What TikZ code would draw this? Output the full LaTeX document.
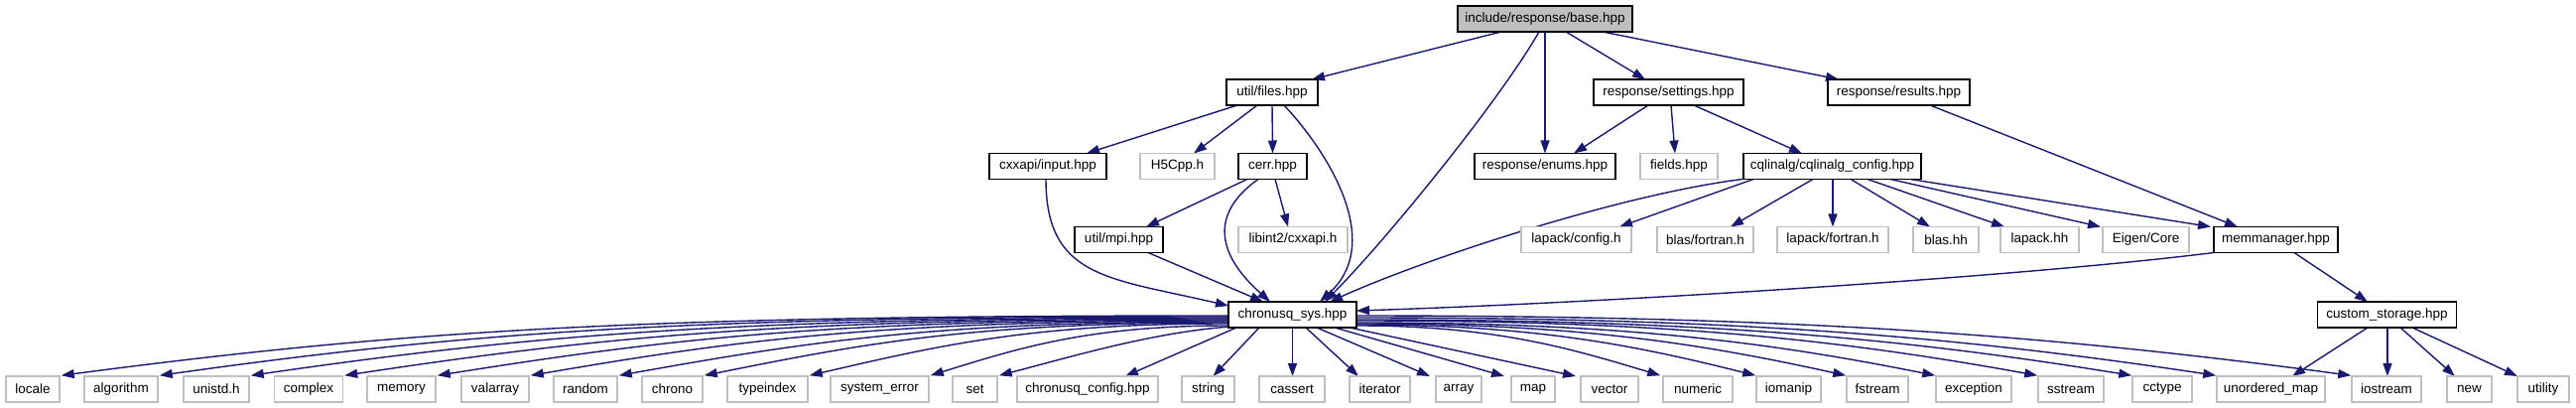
\documentclass[tikz,border=0pt]{standalone}
\usepackage{fontspec}
\setmainfont{Liberation Sans}
\usetikzlibrary{calc,arrows.meta}
\definecolor{edgeblue}{HTML}{191970}
\definecolor{extgray}{HTML}{BFBFBF}
\pgfdeclarelayer{bg}
\pgfsetlayers{bg,main}
\tikzset{
  nd/.style={draw=black, line width=1.5pt, fill=white, minimum height=26pt, inner sep=0pt, font=\fontsize{13.5pt}{15pt}\selectfont},
  ex/.style={nd, draw=extgray},
  e/.style={draw=edgeblue, line width=1.4pt, -{Triangle[length=13pt,width=9pt]}},
}
\begin{document}
\begin{tikzpicture}[x=1pt,y=-1pt]
\useasboundingbox (0,0) rectangle (2596,411);
% row 0
\node[nd, fill=extgray, minimum width=176pt] (base) at (1557,19) {include/response/base.hpp};
% row 1
\node[nd, minimum width=92pt] (files) at (1282,93) {util/files.hpp};
\node[nd, minimum width=151pt] (settings) at (1681.5,93) {response/settings.hpp};
\node[nd, minimum width=143pt] (results) at (1913.5,93) {response/results.hpp};
% row 2
\node[nd, minimum width=118pt] (cxxin) at (1056,167.5) {cxxapi/input.hpp};
\node[ex, minimum width=75pt] (h5) at (1186.5,167.5) {H5Cpp.h};
\node[nd, minimum width=69pt] (cerr) at (1282.5,167.5) {cerr.hpp};
\node[nd, minimum width=142pt] (enums) at (1557,167.5) {response/enums.hpp};
\node[ex, minimum width=78pt] (fields) at (1692,167.5) {fields.hpp};
\node[nd, minimum width=179pt] (cql) at (1846.5,167.5) {cqlinalg/cqlinalg\_config.hpp};
% row 3
\node[nd, minimum width=89pt] (mpi) at (1127.5,241.5) {util/mpi.hpp};
\node[ex, minimum width=110pt] (libint) at (1303,241.5) {libint2/cxxapi.h};
\node[ex, minimum width=111pt] (lconf) at (1588.5,241.5) {lapack/config.h};
\node[ex, minimum width=97pt] (bfort) at (1718.5,241.5) {blas/fortran.h};
\node[ex, minimum width=112pt] (lfort) at (1847,241.5) {lapack/fortran.h};
\node[ex, minimum width=66pt] (blashh) at (1961,241.5) {blas.hh};
\node[ex, minimum width=79pt] (lapackhh) at (2055.5,241.5) {lapack.hh};
\node[ex, minimum width=87pt] (eigen) at (2162.5,241.5) {Eigen/Core};
\node[nd, minimum width=125pt] (mem) at (2293.5,241.5) {memmanager.hpp};
% row 4
\node[nd, minimum width=129pt] (chr) at (1302.5,317) {chronusq\_sys.hpp};
\node[nd, minimum width=140pt] (cust) at (2405.5,317) {custom\_storage.hpp};
% row 5
\node[ex, minimum width=54pt] (locale) at (33,392) {locale};
\node[ex, minimum width=74pt] (algorithm) at (122,392) {algorithm};
\node[ex, minimum width=66pt] (unistd) at (218,392) {unistd.h};
\node[ex, minimum width=69pt] (complex) at (311,392) {complex};
\node[ex, minimum width=69pt] (memory) at (404.5,392) {memory};
\node[ex, minimum width=68pt] (valarray) at (499,392) {valarray};
\node[ex, minimum width=64pt] (random) at (590,392) {random};
\node[ex, minimum width=61pt] (chrono) at (677.5,392) {chrono};
\node[ex, minimum width=81pt] (typeindex) at (773.5,392) {typeindex};
\node[ex, minimum width=99pt] (syserr) at (886.5,392) {system\_error};
\node[ex, minimum width=45pt] (set) at (982.5,392) {set};
\node[ex, minimum width=142pt] (cqconf) at (1096,392) {chronusq\_config.hpp};
\node[ex, minimum width=53pt] (string) at (1217.5,392) {string};
\node[ex, minimum width=66pt] (cassert) at (1302,392) {cassert};
\node[ex, minimum width=61pt] (iterator) at (1390.5,392) {iterator};
\node[ex, minimum width=46pt] (array) at (1470,392) {array};
\node[ex, minimum width=44pt] (map) at (1545,392) {map};
\node[ex, minimum width=58pt] (vector) at (1622,392) {vector};
\node[ex, minimum width=70pt] (numeric) at (1711,392) {numeric};
\node[ex, minimum width=65pt] (iomanip) at (1802.5,392) {iomanip};
\node[ex, minimum width=62pt] (fstream) at (1892,392) {fstream};
\node[ex, minimum width=76pt] (exception) at (1989,392) {exception};
\node[ex, minimum width=66pt] (sstream) at (2087,392) {sstream};
\node[ex, minimum width=60pt] (cctype) at (2179,392) {cctype};
\node[ex, minimum width=109pt] (umap) at (2288.5,392) {unordered\_map};
\node[ex, minimum width=70pt] (iostream) at (2405,392) {iostream};
\node[ex, minimum width=45pt] (new) at (2488.5,392) {new};
\node[ex, minimum width=52pt] (utility) at (2563,392) {utility};

\begin{pgfonlayer}{bg}
% from base
\draw[e] ($(base)+(-44,13)$) -- ($(files)+(40,-13)$);
\draw[e] ($(base)+(-6,13)$) .. controls +(-40,70) and +(60,-60) .. ($(chr)+(32.5,-13)$);
\draw[e] ($(base)+(0,13)$) -- ($(enums)+(0,-13)$);
\draw[e] ($(base)+(21,13)$) -- ($(settings)+(-23.5,-13)$);
\draw[e] ($(base)+(58,13)$) -- ($(results)+(-60.5,-13)$);
% from files
\draw[e] ($(files)+(-35,13)$) -- ($(cxxin)+(39,-13)$);
\draw[e] ($(files)+(-15,13)$) -- ($(h5)+(16.5,-13)$);
\draw[e] ($(files)+(0,13)$) -- ($(cerr)+(0,-13)$);
\draw[e] ($(files)+(12,13)$) .. controls +(46,49) and +(65,-59) .. ($(chr)+(27.5,-13)$);
% from settings
\draw[e] ($(settings)+(-20.5,13)$) -- ($(enums)+(29,-13)$);
\draw[e] ($(settings)+(2.5,13)$) -- ($(fields)+(-4,-13)$);
\draw[e] ($(settings)+(25.5,13)$) -- ($(cql)+(-30.5,-13)$);
% from results
\draw[e] ($(results)+(31.5,13)$) -- ($(mem)+(-38.5,-13)$);
% from cxxapi/input
\draw[e] ($(cxxin)+(-2,13)$) .. controls +(0,100) and +(-120,-28) .. ($(chr)+(-64.5,-9)$);
% from cerr
\draw[e] ($(cerr)+(-25.5,13)$) -- ($(mpi)+(27.5,-13)$);
\draw[e] ($(cerr)+(2.5,13)$) -- ($(libint)+(-5,-13)$);
\draw[e] ($(cerr)+(-14.5,13)$) .. controls +(-48,34) and +(-55,-49) .. ($(chr)+(-22.5,-13)$);
% from cqlinalg_config
\draw[e] ($(cql)+(-90.5,13)$) .. controls +(-120,15) and +(100,-45) .. ($(chr)+(37.5,-13)$);
\draw[e] ($(cql)+(-79.5,13)$) -- ($(lconf)+(43.5,-13)$);
\draw[e] ($(cql)+(-19.5,13)$) -- ($(bfort)+(25.5,-13)$);
\draw[e] ($(cql)+(0.5,13)$) -- ($(lfort)+(0,-13)$);
\draw[e] ($(cql)+(18.5,13)$) -- ($(blashh)+(-16,-13)$);
\draw[e] ($(cql)+(35.5,13)$) -- ($(lapackhh)+(-35.5,-13)$);
\draw[e] ($(cql)+(58.5,13)$) -- ($(eigen)+(-45.5,-13)$);
\draw[e] ($(cql)+(78.5,13)$) -- ($(mem)+(-65.5,-13)$);
% from mpi
\draw[e] ($(mpi)+(29.5,13)$) -- ($(chr)+(-29.5,-13)$);
% from memmanager
\draw[e] ($(mem)+(-62.5,13)$) .. controls +(-200,25) and +(250,-8) .. ($(chr)+(64.5,-4)$);
\draw[e] ($(mem)+(18.5,13)$) -- ($(cust)+(-19.5,-13)$);
% from custom_storage
\draw[e] ($(cust)+(-19.5,13)$) -- ($(umap)+(21.5,-13)$);
\draw[e] ($(cust)+(0.5,13)$) -- ($(iostream)+(1,-13)$);
\draw[e] ($(cust)+(13.5,13)$) -- ($(new)+(-14.5,-13)$);
\draw[e] ($(cust)+(25.5,13)$) -- ($(utility)+(-26,-13)$);
% from chronusq_sys, left fan
\draw[e] ($(chr)+(-64.5,1)$) .. controls +(-590,0) and +(350,-46) .. ($(locale.north east)+(1,0)$);
\draw[e] ($(chr)+(-64.5,2)$) .. controls +(-540,0) and +(320,-45) .. ($(algorithm.north east)+(1,0)$);
\draw[e] ($(chr)+(-64.5,3)$) .. controls +(-490,0) and +(290,-42) .. ($(unistd.north east)+(1,0)$);
\draw[e] ($(chr)+(-64.5,4)$) .. controls +(-445,0) and +(265,-40) .. ($(complex.north east)+(1,0)$);
\draw[e] ($(chr)+(-64.5,5)$) .. controls +(-400,0) and +(240,-38) .. ($(memory.north east)+(1,0)$);
\draw[e] ($(chr)+(-64.5,6)$) .. controls +(-350,0) and +(210,-36) .. ($(valarray.north east)+(1,0)$);
\draw[e] ($(chr)+(-64.5,7)$) .. controls +(-300,0) and +(185,-33) .. ($(random.north east)+(1,0)$);
\draw[e] ($(chr)+(-64.5,8)$) .. controls +(-260,0) and +(160,-32) .. ($(chrono.north east)+(1,0)$);
\draw[e] ($(chr)+(-64.5,9)$) .. controls +(-200,0) and +(130,-30) .. ($(typeindex.north east)+(1,0)$);
\draw[e] ($(chr)+(-64.5,11)$) .. controls +(-140,0) and +(90,-28) .. ($(syserr.north east)+(1,0)$);
\draw[e] ($(chr)+(-62.5,12)$) .. controls +(-80,6) and +(70,-18) .. ($(set.north east)+(1,0)$);
\draw[e] ($(chr)+(-56.5,13)$) -- ($(cqconf)+(38,-13)$);
\draw[e] ($(chr)+(-33.5,13)$) -- ($(string)+(5,-13)$);
\draw[e] ($(chr)+(0,13)$) -- ($(cassert)+(0.5,-13)$);
% right fan
\draw[e] ($(chr)+(13.5,13)$) -- ($(iterator)+(-21.5,-13)$);
\draw[e] ($(chr)+(24.5,13)$) -- ($(array)+(-29,-13)$);
\draw[e] ($(chr)+(42.5,13)$) -- ($(map)+(-29,-13)$);
\draw[e] ($(chr)+(57.5,13)$) -- ($(vector)+(-34,-13)$);
\draw[e] ($(chr)+(64.5,11)$) .. controls +(140,0) and +(-90,-27) .. ($(numeric.north west)+(-2,0)$);
\draw[e] ($(chr)+(64.5,10)$) .. controls +(180,0) and +(-120,-30) .. ($(iomanip.north west)+(0,0)$);
\draw[e] ($(chr)+(64.5,9)$) .. controls +(220,0) and +(-150,-33) .. ($(fstream.north west)+(0,0)$);
\draw[e] ($(chr)+(64.5,8)$) .. controls +(260,0) and +(-175,-35) .. ($(exception.north west)+(0,0)$);
\draw[e] ($(chr)+(64.5,6)$) .. controls +(310,0) and +(-205,-37) .. ($(sstream.north west)+(0,0)$);
\draw[e] ($(chr)+(64.5,5)$) .. controls +(350,0) and +(-235,-38) .. ($(cctype.north west)+(0,0)$);
\draw[e] ($(chr)+(64.5,3)$) .. controls +(390,0) and +(-260,-39) .. ($(umap.north west)+(0,0)$);
\draw[e] ($(chr)+(64.5,1)$) .. controls +(450,0) and +(-300,-40) .. ($(iostream.north west)+(0,0)$);
\end{pgfonlayer}
\end{tikzpicture}
\end{document}
